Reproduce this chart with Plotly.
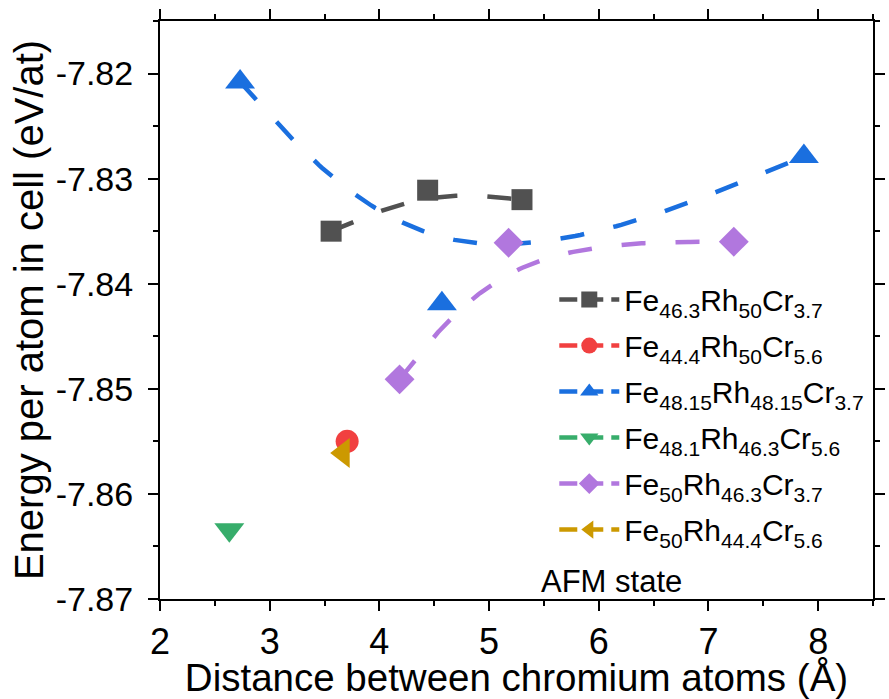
import numpy as np
import plotly.graph_objects as go

# ---- data ----
names = [
    "Fe<sub>46.3</sub>Rh<sub>50</sub>Cr<sub>3.7</sub>",
    "Fe<sub>44.4</sub>Rh<sub>50</sub>Cr<sub>5.6</sub>",
    "Fe<sub>48.15</sub>Rh<sub>48.15</sub>Cr<sub>3.7</sub>",
    "Fe<sub>48.1</sub>Rh<sub>46.3</sub>Cr<sub>5.6</sub>",
    "Fe<sub>50</sub>Rh<sub>46.3</sub>Cr<sub>3.7</sub>",
    "Fe<sub>50</sub>Rh<sub>44.4</sub>Cr<sub>5.6</sub>",
]
x_s1 = [3.56, 4.44, 5.30]
y_s1 = [-7.8350, -7.8311, -7.8320]
x_s2 = [3.706]
y_s2 = [-7.8550]
x_s3 = [2.73, 4.57, 7.87]
y_s3 = [-7.8208, -7.8419, -7.8279]
x_s4 = [2.632]
y_s4 = [-7.8634]
x_s5 = [4.184, 5.178, 7.231]
y_s5 = [-7.8491, -7.8361, -7.8360]
x_s6 = [3.67]
y_s6 = [-7.8561]

colors = ["#515151", "#F14040", "#1A6FDF", "#37AD6B", "#B177DE", "#CC9900"]
symbols = ["square", "circle", "triangle-up", "triangle-down", "diamond", "triangle-left"]
msizes = [21, 23, 26, 26, 23, 26]

x_ticks = [2, 3, 4, 5, 6, 7, 8]
y_ticks = [-7.87, -7.86, -7.85, -7.84, -7.83, -7.82]

series = [(x_s1, y_s1), (x_s2, y_s2), (x_s3, y_s3), (x_s4, y_s4), (x_s5, y_s5), (x_s6, y_s6)]


def bspline(xs, ys, n=60):
    """Uniform cubic B-spline with clamped (tripled) end control points."""
    pts = np.column_stack([xs, ys])
    ctrl = np.vstack([pts[:1], pts[:1], pts, pts[-1:], pts[-1:]])
    out = []
    t = np.linspace(0, 1, n)
    b0 = (1 - t) ** 3
    b1 = 3 * t ** 3 - 6 * t ** 2 + 4
    b2 = -3 * t ** 3 + 3 * t ** 2 + 3 * t + 1
    b3 = t ** 3
    for i in range(len(ctrl) - 3):
        c = ctrl[i:i + 4]
        seg = (np.outer(b0, c[0]) + np.outer(b1, c[1]) + np.outer(b2, c[2]) + np.outer(b3, c[3])) / 6
        out.append(seg)
    out = np.vstack(out)
    return out[:, 0], out[:, 1]


fig = go.Figure()
dash = "24px,30px"
lw = 4.5
for i, (xs, ys) in enumerate(series):
    grp = f"g{i}"
    if len(xs) > 1:
        cx, cy = bspline(xs, ys)
        fig.add_trace(go.Scatter(x=cx, y=cy, mode="lines", showlegend=False, legendgroup=grp,
                                 line=dict(color=colors[i], width=lw, dash=dash), hoverinfo="skip"))
    fig.add_trace(go.Scatter(x=xs, y=ys, mode="markers", showlegend=False, legendgroup=grp,
                             marker=dict(symbol=symbols[i], size=msizes[i], color=colors[i],
                                         line=dict(width=0))))
    # legend entry
    fig.add_trace(go.Scatter(x=[None], y=[None], mode="lines+markers", name=names[i], legendgroup=grp,
                             line=dict(color=colors[i], width=lw, dash="18px,8px"),
                             marker=dict(symbol=symbols[i], size=msizes[i], color=colors[i])))

font_family = "Liberation Sans, Arial, sans-serif"
axis_common = dict(showline=True, linewidth=2, linecolor="black", mirror="ticks", ticks="outside",
                   ticklen=10, tickwidth=2, tickcolor="black", showgrid=False, zeroline=False)

fig.update_xaxes(range=[2, 8.5], tickvals=x_ticks, ticktext=[str(v) for v in x_ticks],
                 tickfont=dict(size=36, color="black", family=font_family),
                 minor=dict(dtick=0.5, ticks="outside", ticklen=5, tickwidth=2, tickcolor="black"),
                 title=dict(text="Distance between chromium atoms (Å)", standoff=6,
                            font=dict(size=38.5, color="black", family=font_family)),
                 **axis_common)
fig.update_yaxes(range=[-7.87, -7.815], tickvals=y_ticks, ticktext=[f"{v:.2f}" for v in y_ticks],
                 tickfont=dict(size=34, color="black", family=font_family),
                 ticklabelstandoff=8,
                 minor=dict(dtick=0.005, ticks="outside", ticklen=5, tickwidth=2, tickcolor="black"),
                 title=dict(text="Energy per atom in cell (eV/at)", standoff=0,
                            font=dict(size=40, color="black", family=font_family)),
                 **axis_common)

fig.add_annotation(text="AFM state", xref="paper", yref="paper", x=0.531, y=0.031,
                   xanchor="left", yanchor="middle", showarrow=False,
                   font=dict(size=31, color="black", family=font_family))

fig.update_layout(
    width=889, height=699,
    margin=dict(l=160, r=4, t=21, b=93),
    plot_bgcolor="white", paper_bgcolor="white",
    font=dict(family=font_family, color="black"),
    legend=dict(x=0.553, y=0.319, xanchor="left", yanchor="middle", bgcolor="rgba(0,0,0,0)",
                font=dict(size=30, color="black", family=font_family), tracegroupgap=4,
                itemwidth=60),
)

fig.write_html("out.html")
